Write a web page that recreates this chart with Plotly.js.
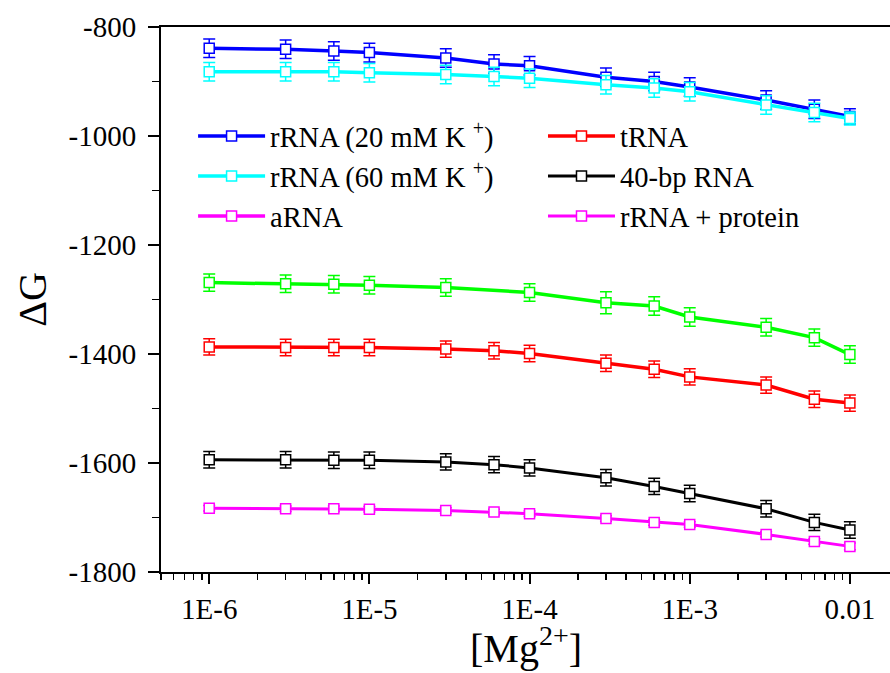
<!DOCTYPE html>
<html>
<head>
<meta charset="utf-8">
<script src="https://cdn.plot.ly/plotly-3.0.1.min.js"></script>
<style>html,body{margin:0;padding:0;background:#fff;}#chart{width:890px;height:673px;}</style>
</head>
<body>
<div id="chart"></div>
<script>
// Mg2+ concentrations (M)
const mgFull = [1e-6, 3e-6, 6e-6, 1e-5, 3e-5, 6e-5, 1e-4, 3e-4, 6e-4, 1e-3, 3e-3, 6e-3, 1e-2];
const mgGreen = [1e-6, 3e-6, 6e-6, 1e-5, 3e-5, 1e-4, 3e-4, 6e-4, 1e-3, 3e-3, 6e-3, 1e-2];

const rRNA20 = [-839, -841, -844, -847, -857, -868, -871, -892, -900, -910, -934, -951, -964];
const rRNA20Err = [17, 17, 17, 17, 17, 17, 17, 17, 17, 17, 17, 17, 14];
const rRNA60 = [-882, -882, -882, -884, -887, -891, -894, -906, -912, -919, -943, -957, -968];
const rRNA60Err = [17, 17, 17, 17, 17, 17, 17, 17, 17, 17, 17, 17, 12];
const aRNA = [-1269, -1271, -1272, -1274, -1278, -1287, -1306, -1312, -1332, -1351, -1370, -1401];
const aRNAErr = [16, 16, 16, 16, 16, 16, 20, 17, 17, 16, 16, 16];
const tRNA = [-1387, -1388, -1388, -1388, -1391, -1394, -1399, -1417, -1428, -1442, -1457, -1483, -1490];
const tRNAErr = [15, 15, 15, 15, 15, 15, 15, 15, 15, 15, 15, 15, 15];
const bp40 = [-1594, -1594, -1595, -1595, -1598, -1603, -1609, -1627, -1643, -1656, -1684, -1709, -1723];
const bp40Err = [15, 15, 15, 15, 15, 15, 15, 15, 15, 15, 15, 15, 15];
const rProt = [-1683, -1684, -1684, -1685, -1687, -1690, -1693, -1702, -1709, -1713, -1731, -1744, -1753];
const rProtErr = [5, 5, 5, 5, 5, 5, 5, 5, 5, 5, 5, 5, 6];

const xTickVals = [1e-6, 1e-5, 1e-4, 1e-3, 1e-2];
const xTickText = ['1E-6', '1E-5', '1E-4', '1E-3', '0.01'];
const yTickVals = [-800, -1000, -1200, -1400, -1600, -1800];
const yTickText = ['-800', '-1000', '-1200', '-1400', '-1600', '-1800'];

function tr(x, y, err, color, name, legend, group, showlegend, lw) {
  return {
    x: x, y: y, type: 'scatter', mode: 'lines+markers', name: name,
    legend: legend, legendgroup: group, showlegend: showlegend,
    line: {color: color, width: lw || 3.5},
    marker: {symbol: 'square', size: 10, color: '#ffffff', line: {color: color, width: 1.5}},
    error_y: {type: 'data', array: err, visible: true, color: color, thickness: 1.5, width: 6}
  };
}

const data = [
  tr(mgFull, rRNA20, rRNA20Err, '#0000ff', 'rRNA (20 mM K <sup>+</sup>)', 'legend', 'a', true),
  tr(mgFull, rRNA60, rRNA60Err, '#00ffff', 'rRNA (60 mM K <sup>+</sup>)', 'legend', 'b', true),
  tr(mgGreen, aRNA, aRNAErr, '#00ff00', 'aRNA', 'legend', 'g', false),
  {x: [null], y: [null], type: 'scatter', mode: 'lines+markers', name: 'aRNA', legend: 'legend', legendgroup: 'c',
   line: {color: '#ff00ff', width: 3.5}, marker: {symbol: 'square', size: 10, color: '#ffffff', line: {color: '#ff00ff', width: 1.5}}},
  tr(mgFull, tRNA, tRNAErr, '#ff0000', 'tRNA', 'legend2', 'd', true),
  tr(mgFull, bp40, bp40Err, '#000000', '40-bp RNA', 'legend2', 'e', true, 3),
  tr(mgFull, rProt, rProtErr, '#ff00ff', 'rRNA + protein', 'legend2', 'f', true, 3)
];

const legendBase = {
  orientation: 'v', bgcolor: 'rgba(0,0,0,0)', borderwidth: 0,
  font: {family: 'Liberation Serif', size: 28.5, color: '#000'},
  itemwidth: 67, tracegroupgap: 0, xanchor: 'left', yanchor: 'top',
  traceorder: 'normal', itemclick: false
};

const layout = {
  width: 890, height: 673,
  margin: {l: 161, r: 0, t: 27, b: 101},
  paper_bgcolor: '#ffffff', plot_bgcolor: '#ffffff',
  font: {family: 'Liberation Serif', color: '#000'},
  showlegend: true,
  legend: Object.assign({}, legendBase, {x: 0.044, y: 0.846}),
  legend2: Object.assign({}, legendBase, {x: 0.524, y: 0.846}),
  xaxis: {
    type: 'log', range: [Math.log10(5e-7), Math.log10(0.0178)],
    tickvals: xTickVals, ticktext: xTickText,
    ticks: 'outside', ticklen: 10, tickwidth: 2, tickcolor: '#000',
    minor: {ticks: 'outside', ticklen: 6, tickwidth: 1.5, tickcolor: '#000', dtick: 'D1', showgrid: false},
    showline: true, linewidth: 2, linecolor: '#000', mirror: true,
    showgrid: false, zeroline: false,
    tickfont: {family: 'Liberation Serif', size: 29, color: '#000'}
  },
  yaxis: {
    range: [-1800, -800], tickvals: yTickVals, ticktext: yTickText,
    ticks: 'outside', ticklen: 11, tickwidth: 2, tickcolor: '#000',
    minor: {ticks: 'outside', ticklen: 7, tickwidth: 1.5, tickcolor: '#000', dtick: 100, showgrid: false},
    showline: true, linewidth: 2, linecolor: '#000',
    showgrid: false, zeroline: false,
    tickfont: {family: 'Liberation Serif', size: 29, color: '#000'},
    ticklabelstandoff: 6,
    title: {text: 'ΔG', font: {family: 'Liberation Serif', size: 40, color: '#000'}, standoff: 10}
  },
  annotations: [{
    text: '[Mg<sup>2+</sup>]', xref: 'paper', yref: 'paper', x: 0.5, y: -0.085,
    xanchor: 'center', yanchor: 'top', showarrow: false,
    font: {family: 'Liberation Serif', size: 40, color: '#000'}
  }]
};

Plotly.newPlot('chart', data, layout, {displayModeBar: false, staticPlot: true});
</script>
</body>
</html>
